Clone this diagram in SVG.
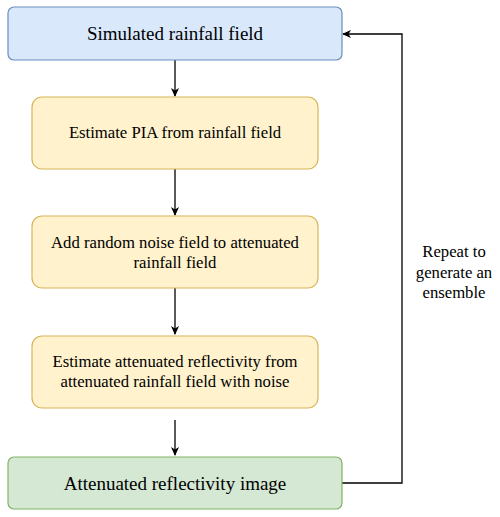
<svg xmlns="http://www.w3.org/2000/svg" width="500" height="517" viewBox="0 0 500 517">
<style>
.l{font-size:19px}
.s{font-size:16.7px}
.c{fill:none;stroke:#000;stroke-width:1.3}
</style>
<defs>
<marker id="a" markerWidth="10" markerHeight="10" refX="8" refY="5" orient="auto" markerUnits="userSpaceOnUse">
<path d="M0,1 L9,5 L0,9 L2.5,5 Z" fill="#000"/>
</marker>
</defs>
<rect width="500" height="517" fill="#fff"/>
<g id="connectors">
<path class="c" d="M175,60 V96" marker-end="url(#a)"/>
<path class="c" d="M175,169 V215" marker-end="url(#a)"/>
<path class="c" d="M175,288 V334" marker-end="url(#a)"/>
<path class="c" d="M175,420 V455" marker-end="url(#a)"/>
<path class="c" d="M342,483 H402 V34 H343" marker-end="url(#a)"/>
</g>
<g font-family="Liberation Serif, Times New Roman, serif" text-anchor="middle" fill="#000">
<g id="n1">
<rect x="8" y="7" width="334" height="53" rx="6" fill="#dae8fc" stroke="#6c8ebf" stroke-width="1.2"/>
<text class="l" x="175" y="40">Simulated rainfall field</text>
</g>
<g id="n2">
<rect x="32" y="97" width="286" height="72" rx="10" fill="#fff2cc" stroke="#d6b656" stroke-width="1.2"/>
<text class="s" x="175" y="138">Estimate PIA from rainfall field</text>
</g>
<g id="n3">
<rect x="32" y="216" width="286" height="72" rx="10" fill="#fff2cc" stroke="#d6b656" stroke-width="1.2"/>
<text class="s" x="175" y="248">Add random noise field to attenuated</text>
<text class="s" x="175" y="268">rainfall field</text>
</g>
<g id="n4">
<rect x="32" y="336" width="286" height="72" rx="10" fill="#fff2cc" stroke="#d6b656" stroke-width="1.2"/>
<text class="s" x="175" y="367">Estimate attenuated reflectivity from</text>
<text class="s" x="175" y="387">attenuated rainfall field with noise</text>
</g>
<g id="n5">
<rect x="8" y="457" width="334" height="52" rx="6" fill="#d5e8d4" stroke="#82b366" stroke-width="1.2"/>
<text class="l" x="175" y="490">Attenuated reflectivity image</text>
</g>
<g id="label">
<text class="s" x="454" y="257">Repeat to</text>
<text class="s" x="454" y="278">generate an</text>
<text class="s" x="454" y="298">ensemble</text>
</g>
</g>
</svg>
